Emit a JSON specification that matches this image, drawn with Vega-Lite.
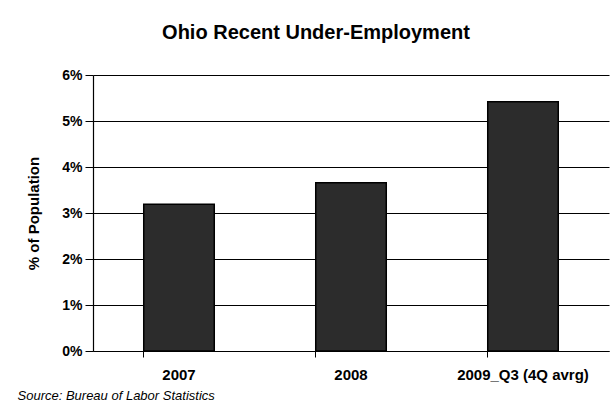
{
  "$schema": "https://vega.github.io/schema/vega-lite/v6.json",
  "autosize": "none",
  "width": 516,
  "height": 276,
  "padding": {"left": 93, "top": 75, "right": 1, "bottom": 57},
  "background": "white",
  "title": {
    "text": "Ohio Recent Under-Employment",
    "font": "Liberation Sans",
    "fontSize": 20,
    "fontWeight": "bold",
    "color": "#000",
    "anchor": "middle",
    "dx": -35,
    "offset": 25
  },
  "data": {
    "values": [
      {"period": "2007", "rate": 0.0319},
      {"period": "2008", "rate": 0.0366},
      {"period": "2009_Q3 (4Q avrg)", "rate": 0.0542}
    ]
  },
  "mark": {"type": "bar", "fill": "#2c2c2c", "stroke": "#000", "strokeWidth": 1.5},
  "encoding": {
    "x": {
      "field": "period",
      "type": "nominal",
      "sort": null,
      "scale": {"paddingInner": 0.59, "paddingOuter": 0.295},
      "axis": {
        "title": "Source: Bureau of Labor Statistics",
        "titleFont": "Liberation Sans",
        "titleFontSize": 13,
        "titleFontStyle": "italic",
        "titleFontWeight": "normal",
        "titleColor": "#000",
        "titleAnchor": "start",
        "titleAlign": "left",
        "titleX": -76,
        "titleY": 48,
        "titleBaseline": "alphabetic",
        "labelAngle": 0,
        "labelFont": "Liberation Sans",
        "labelFontSize": 15,
        "labelFontWeight": "bold",
        "labelColor": "#000",
        "labelPadding": 10,
        "bandPosition": 0,
        "ticks": true,
        "tickSize": 6,
        "tickColor": "#000",
        "domainColor": "#000",
        "domainWidth": 1.2,
        "grid": false
      }
    },
    "y": {
      "field": "rate",
      "type": "quantitative",
      "scale": {"domain": [0, 0.06], "nice": false},
      "axis": {
        "title": "% of Population",
        "titleFont": "Liberation Sans",
        "titleFontSize": 15,
        "titleFontWeight": "bold",
        "titleColor": "#000",
        "titlePadding": 20,
        "format": ".0%",
        "values": [0, 0.01, 0.02, 0.03, 0.04, 0.05, 0.06],
        "labelFont": "Liberation Sans",
        "labelFontSize": 14,
        "labelFontWeight": "bold",
        "labelColor": "#000",
        "labelPadding": 3,
        "tickSize": 8,
        "tickColor": "#000",
        "domainColor": "#000",
        "domainWidth": 1.2,
        "grid": true,
        "gridColor": "#000",
        "gridWidth": 1
      }
    }
  },
  "config": {
    "view": {"stroke": null}
  }
}
